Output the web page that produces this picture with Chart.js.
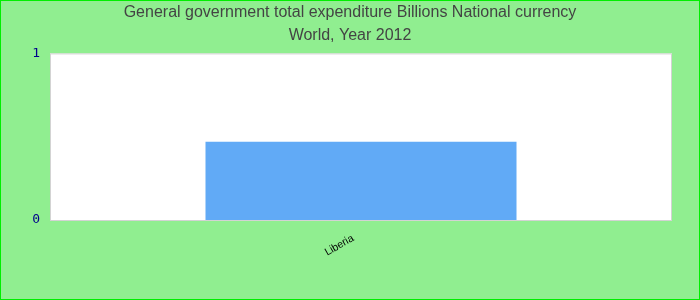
<!DOCTYPE html>
<html>
<head>
<meta charset="utf-8">
<script src="https://cdn.jsdelivr.net/npm/chart.js@4/dist/chart.umd.min.js"></script>
<style>
  html, body { margin: 0; padding: 0; background: #90EE90; }
  #wrap { width: 700px; height: 300px; }
</style>
</head>
<body>
<div id="wrap"><canvas id="chart" width="700" height="300"></canvas></div>
<script>
const titleLines = ["General government total expenditure Billions National currency", "World, Year 2012"];
const countries = ["Liberia"];
const expenditure = [0.47];
const yTicks = [0, 1];

// paints the page background, frame and white plot area
const framePlugin = {
    id: 'frame',
    beforeDraw(chart) {
        const ctx = chart.ctx;
        const a = chart.chartArea;
        ctx.save();
        ctx.fillStyle = '#90EE90';
        ctx.fillRect(0, 0, chart.width, chart.height);
        ctx.strokeStyle = '#00EE00';
        ctx.lineWidth = 2;
        ctx.strokeRect(0, 0, chart.width, chart.height);
        ctx.fillStyle = '#FFFFFF';
        ctx.fillRect(a.left, a.top, a.right - a.left, a.bottom - a.top);
        ctx.strokeStyle = '#D3D3D3';
        ctx.lineWidth = 1;
        ctx.strokeRect(a.left + 0.5, a.top + 0.5, a.right - a.left - 1, a.bottom - a.top);
        ctx.restore();
    }
};

window.onload = () => {
    const ctx = document.getElementById('chart').getContext('2d');
    new Chart(ctx, {
        type: 'bar',
        data: {
            labels: countries,
            datasets: [{
                label: titleLines[0],
                data: expenditure,
                backgroundColor: '#61AAF6',
                borderWidth: 0,
                barPercentage: 0.5,
                categoryPercentage: 1
            }]
        },
        options: {
            responsive: false,
            animation: false,
            layout: { padding: 0 },
            plugins: {
                legend: { display: false },
                tooltip: { enabled: false },
                title: {
                    display: true,
                    text: titleLines,
                    color: '#444444',
                    font: { family: 'Liberation Sans', size: 16, weight: 'normal', lineHeight: 1.45 },
                    padding: { top: 1, bottom: 6 }
                }
            },
            scales: {
                x: {
                    grid: { display: false },
                    border: { display: false },
                    ticks: {
                        color: '#000000',
                        font: { family: 'Liberation Sans', size: 10.5 },
                        minRotation: 30,
                        maxRotation: 30,
                        labelOffset: -8,
                        padding: 4
                    },
                    afterFit(scale) { scale.height = 80; }
                },
                y: {
                    min: yTicks[0],
                    max: yTicks[yTicks.length - 1],
                    grid: { display: false },
                    border: { display: false },
                    ticks: {
                        stepSize: 1,
                        color: '#00008B',
                        font: { family: 'DejaVu Sans Mono', size: 13 },
                        padding: 2
                    },
                    afterFit(scale) { scale.width = 50; }
                },
                // empty right-hand axis, only keeps the right margin
                yRight: {
                    position: 'right',
                    grid: { display: false },
                    border: { display: false },
                    ticks: { display: false },
                    afterFit(scale) { scale.width = 28; }
                }
            }
        },
        plugins: [framePlugin]
    });
};
</script>
</body>
</html>
